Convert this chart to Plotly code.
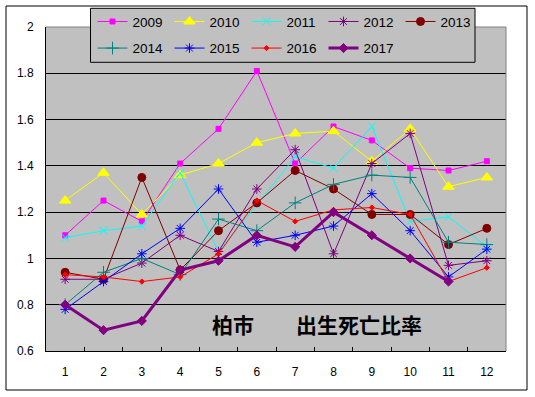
import plotly.graph_objects as go

months = ["1", "2", "3", "4", "5", "6", "7", "8", "9", "10", "11", "12"]
y_ticks = [0.6, 0.8, 1.0, 1.2, 1.4, 1.6, 1.8, 2.0]
y_tick_labels = ["0.6", "0.8", "1", "1.2", "1.4", "1.6", "1.8", "2"]

years = ["2009", "2010", "2011", "2012", "2013", "2014", "2015", "2016", "2017"]
y2009 = [1.10, 1.25, 1.16, 1.41, 1.56, 1.81, 1.41, 1.57, 1.51, 1.39, 1.38, 1.42]
y2010 = [1.25, 1.37, 1.19, 1.36, 1.41, 1.50, 1.54, 1.55, 1.42, 1.56, 1.31, 1.35]
y2011 = [1.09, 1.12, 1.14, 1.37, 1.03, 1.23, 1.44, 1.39, 1.57, 1.16, 1.18, 1.05]
y2012 = [0.91, 0.91, 0.98, 1.10, 1.03, 1.30, 1.47, 1.02, 1.41, 1.54, 0.97, 0.99]
y2013 = [0.94, 0.91, 1.35, 0.95, 1.12, 1.24, 1.38, 1.30, 1.19, 1.19, 1.06, 1.13]
y2014 = [0.80, 0.94, 1.00, 0.93, 1.17, 1.12, 1.24, 1.32, 1.36, 1.35, 1.07, 1.06]
y2015 = [0.78, 0.90, 1.02, 1.13, 1.30, 1.07, 1.10, 1.14, 1.28, 1.12, 0.92, 1.04]
y2016 = [0.93, 0.92, 0.90, 0.92, 1.02, 1.25, 1.16, 1.21, 1.22, 1.19, 0.90, 0.96]
y2017 = [0.80, 0.69, 0.73, 0.95, 0.99, 1.10, 1.05, 1.20, 1.10, 1.00, 0.90, None]

title_text = "柏市\u3000\u3000出生死亡比率"

series = [
    (years[0], y2009, "#FF00FF", "square", 5, 1, "legend"),
    (years[1], y2010, "#FFFF00", "triangle-up", 10, 1, "legend"),
    (years[2], y2011, "#00FFFF", "x-thin-open", 8, 1, "legend"),
    (years[3], y2012, "#800080", "asterisk-open", 8, 1, "legend"),
    (years[4], y2013, "#800000", "circle", 8, 1, "legend"),
    (years[5], y2014, "#008080", "cross-thin-open", 9, 1, "legend2"),
    (years[6], y2015, "#0000FF", "asterisk-open", 8, 1, "legend2"),
    (years[7], y2016, "#FF0000", "diamond", 4, 1, "legend2"),
    (years[8], y2017, "#800080", "diamond", 7, 3, "legend2"),
]

fig = go.Figure()
for name, ys, col, sym, size, lw, leg in series:
    fig.add_trace(go.Scatter(
        x=months, y=ys, name=name, mode="lines+markers",
        line=dict(color=col, width=lw),
        marker=dict(symbol=sym, size=size, color=col, line=dict(color=col, width=1)),
        legend=leg, connectgaps=False,
    ))

W, H, L, T = 460, 324, 46, 27
def px(x):
    return (x - L) / W
def py(y):
    return (T + H - y) / H

legend_common = dict(
    orientation="h", bgcolor="rgba(0,0,0,0)", borderwidth=0,
    font=dict(family="Liberation Sans, Arial, sans-serif", size=13.5, color="black"),
    entrywidth=32, entrywidthmode="pixels", xanchor="left", yanchor="middle",
    itemclick=False,
)

fig.update_layout(
    width=535, height=397,
    margin=dict(l=L, r=535 - L - W, t=T, b=397 - T - H, autoexpand=False),
    paper_bgcolor="white", plot_bgcolor="#C0C0C0",
    showlegend=True, hovermode=False,
    legend=dict(x=px(92.5), y=py(21.7), **legend_common),
    legend2=dict(x=px(92.5), y=py(48.3), **legend_common),
    xaxis=dict(
        type="category", categoryorder="array", categoryarray=months,
        range=[-0.5, len(months) - 0.5],
        tickson="boundaries", ticks="inside", ticklen=4, tickcolor="black",
        showline=True, linecolor="black", linewidth=1, showgrid=False,
        tickfont=dict(family="Liberation Sans, Arial, sans-serif", size=12, color="black"),
        ticklabelstandoff=10, zeroline=False,
    ),
    yaxis=dict(
        range=[0.6, 2.0], tickvals=y_ticks, ticktext=y_tick_labels,
        showgrid=True, gridcolor="black", gridwidth=1,
        showline=True, linecolor="black", linewidth=1, ticks="",
        tickfont=dict(family="Liberation Sans, Arial, sans-serif", size=12, color="black"),
        ticklabelstandoff=9, zeroline=False,
    ),
    shapes=[
        dict(type="rect", xref="paper", yref="paper",
             x0=px(6), x1=px(527), y0=py(390), y1=py(6),
             line=dict(color="black", width=1), fillcolor="rgba(0,0,0,0)", layer="below"),
        dict(type="line", xref="paper", yref="paper", x0=0, x1=1, y0=1, y1=1,
             line=dict(color="#808080", width=1), layer="above"),
        dict(type="line", xref="paper", yref="paper", x0=1, x1=1, y0=0, y1=1,
             line=dict(color="#808080", width=1), layer="above"),
        dict(type="rect", xref="paper", yref="paper",
             x0=px(90.5), x1=px(475), y0=py(62.3), y1=py(8.3),
             line=dict(color="black", width=1), fillcolor="#C0C0C0", layer="above"),
    ],
    annotations=[
        dict(text="<b>" + title_text + "</b>", xref="paper", yref="paper",
             x=px(317.2), y=py(324), xanchor="center", yanchor="middle",
             showarrow=False,
             font=dict(family="Noto Sans CJK JP, sans-serif", size=21, color="black")),
    ],
)

fig.write_html(
    "out.html",
    config={"displayModeBar": False, "staticPlot": True},
    post_script="document.body.style.margin='0';document.body.style.overflow='hidden';",
)
